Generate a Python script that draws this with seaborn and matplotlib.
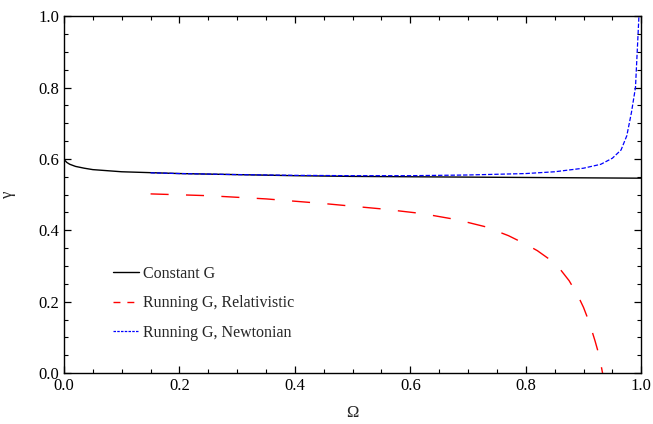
import numpy as np
import pandas as pd
import seaborn as sns
from matplotlib import pyplot as plt
from matplotlib.ticker import MultipleLocator

# values
omega_const = [0.0, 0.002, 0.005, 0.01, 0.02, 0.035, 0.05, 0.1, 0.2, 0.3, 0.4, 0.5, 0.6, 0.7, 0.8, 0.9, 1.0]
gamma_const = [0.602, 0.595, 0.590, 0.585, 0.579, 0.574, 0.570, 0.564, 0.559, 0.556, 0.553, 0.551, 0.550, 0.549, 0.548, 0.547, 0.546]

omega_rel = [0.15, 0.25, 0.35, 0.45, 0.55, 0.62, 0.68, 0.73, 0.77, 0.80, 0.82, 0.84, 0.86, 0.875,
             0.89, 0.90, 0.91, 0.92, 0.927, 0.933]
gamma_rel = [0.502, 0.497, 0.488, 0.475, 0.460, 0.447, 0.430, 0.410, 0.385, 0.361, 0.343, 0.320, 0.290, 0.259,
             0.218, 0.184, 0.142, 0.090, 0.050, 0.0]

omega_newt = [0.15, 0.2, 0.3, 0.4, 0.5, 0.6, 0.7, 0.8, 0.85, 0.9, 0.93, 0.95, 0.965, 0.975, 0.983, 0.99, 0.993, 0.996]
gamma_newt = [0.561, 0.559, 0.556, 0.554, 0.553, 0.553, 0.555, 0.559, 0.564, 0.574, 0.585, 0.602, 0.625, 0.665, 0.730, 0.800, 0.900, 1.0]

labels = ['Constant G', 'Running G, Relativistic', 'Running G, Newtonian']

sns.set_theme(style="ticks")
plt.rcParams['font.family'] = ['Liberation Serif', 'DejaVu Serif']
plt.rcParams['mathtext.fontset'] = 'stix'

fig, ax = plt.subplots(figsize=(6.53, 4.24), dpi=100)
fig.subplots_adjust(left=0.098, right=0.982, bottom=0.12, top=0.962)

sns.lineplot(x=omega_const, y=gamma_const, ax=ax, color='black', lw=1.0, label=labels[0], sort=False)
sns.lineplot(x=omega_rel, y=gamma_rel, ax=ax, color='red', lw=1.0, label=labels[1], sort=False)
sns.lineplot(x=omega_newt, y=gamma_newt, ax=ax, color='blue', lw=0.9, label=labels[2], sort=False)

lines = ax.get_lines()
lines[1].set_dashes([13, 12.5])
lines[2].set_dashes([3.5, 1.5])

ax.set_xlim(0, 1)
ax.set_ylim(0, 1)
ax.xaxis.set_major_locator(MultipleLocator(0.2))
ax.xaxis.set_minor_locator(MultipleLocator(0.05))
ax.yaxis.set_major_locator(MultipleLocator(0.2))
ax.yaxis.set_minor_locator(MultipleLocator(0.05))
ax.tick_params(which='both', direction='in', top=True, right=True, labelsize=12, colors='black')
ax.tick_params(which='major', length=5, width=0.9)
ax.tick_params(which='minor', length=3, width=0.8)
for sp in ax.spines.values():
    sp.set_color('black')
    sp.set_linewidth(1.0)

ax.set_xlabel('Ω', fontsize=12, labelpad=8)
ax.set_ylabel('γ', fontsize=12, labelpad=16)

leg = ax.legend(loc='lower left', bbox_to_anchor=(0.06, 0.05), frameon=False, fontsize=11.5,
                handlelength=1.6, handletextpad=0.3, labelspacing=0.85)
leg.get_lines()[1].set_dashes([5, 5])
leg.get_lines()[2].set_dashes([2, 1])

fig.savefig('out.png', dpi=100)
